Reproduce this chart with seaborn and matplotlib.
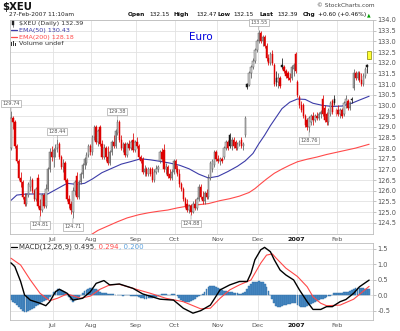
import numpy as np
import pandas as pd
import matplotlib
matplotlib.use("Agg")
import matplotlib.pyplot as plt
from matplotlib.patches import Rectangle
from matplotlib.lines import Line2D
import seaborn as sns

sns.set_theme(style="white")
plt.rcParams["font.family"] = ["DejaVu Sans"]

# ---- trading calendar -------------------------------------------------------
holidays = ["2006-07-04", "2006-09-04", "2006-11-23", "2006-12-25",
            "2007-01-01", "2007-01-15", "2007-02-19"]
dates = pd.bdate_range("2006-06-01", "2007-02-27", freq="C", holidays=holidays)

# ---- daily OHLC of $XEU -----------------------------------------------------
opens = [
    # Jun
    128.0, 129.4, 129.2, 128.1, 127.4, 126.6, 126.4, 125.7, 125.4, 125.8, 126.2,
    126.5, 126.0, 125.6, 126.6, 125.3, 125.1, 125.8, 125.3, 126.1, 127.0, 127.8,
    # Jul
    127.6, 127.9, 128.0, 128.2, 127.6, 127.1, 127.3, 126.5, 125.6, 125.4,
    125.0, 126.0, 126.7, 125.7, 126.4, 126.8, 127.2, 127.3, 127.7, 128.1,
    # Aug
    127.8, 128.5, 129.0, 128.3, 129.0, 128.2, 127.6, 128.0, 127.6, 127.3, 127.8,
    128.3, 128.1, 128.7, 129.2, 128.4, 128.0, 128.2, 127.7, 128.2, 128.0, 128.4, 127.9,
    # Sep
    128.3, 128.1, 127.6, 127.5, 126.9, 127.0, 126.8, 127.0, 127.0, 126.5,
    126.9, 127.0, 127.4, 127.8, 127.9, 127.0, 127.1, 126.8, 126.6, 126.9,
    # Oct
    127.4, 127.0, 126.8, 126.3, 126.1, 125.6, 125.4, 125.1, 125.3, 125.0, 125.4,
    125.2, 125.6, 126.2, 125.7, 125.5, 125.9, 125.7, 126.6, 127.0, 127.2, 127.8,
    # Nov
    127.5, 127.4, 127.5, 127.6, 128.0, 128.3, 128.6, 128.1, 128.4, 128.3, 128.0,
    128.2, 128.4, 128.1, 128.6, 131.0, 130.95, 131.5, 131.8, 132.1, 132.6,
    # Dec
    133.0, 133.4, 133.0, 133.2, 132.8, 132.2, 132.0, 132.4, 131.9, 131.3,
    131.1, 131.3, 131.9, 131.8, 131.6, 131.5, 131.3, 131.3, 131.7, 132.4,
    # Jan
    131.1, 130.4, 130.0, 130.0, 129.5, 129.3, 129.0, 129.2, 129.5, 129.3,
    129.5, 129.4, 129.6, 130.3, 129.9, 129.6, 129.2, 129.6, 130.2, 130.3,
    # Feb
    129.6, 129.8, 129.6, 129.8, 129.6, 130.1, 130.2, 129.9, 130.3,
    130.8, 131.5, 131.3, 131.5, 131.2, 131.0, 131.4, 131.9, 132.15,
]
highs = [
    129.74, 129.5, 129.3, 128.2, 127.5, 126.9, 126.5, 125.9, 125.9, 126.4, 126.7,
    126.6, 126.1, 126.2, 126.8, 125.6, 125.9, 125.9, 126.3, 127.1, 128.0, 128.1,
    128.0, 128.2, 128.44, 128.3, 127.7, 127.5, 127.4, 126.6, 125.8, 125.5,
    126.2, 126.5, 126.9, 126.5, 126.9, 127.3, 127.6, 127.8, 128.2, 128.2,
    128.6, 129.1, 129.1, 128.9, 129.1, 128.4, 128.2, 128.1, 128.1, 127.9, 128.4,
    128.6, 128.9, 129.38, 129.3, 128.6, 128.3, 128.3, 128.3, 128.4, 128.4, 128.7, 128.4,
    128.5, 128.2, 127.7, 127.6, 127.2, 127.1, 127.1, 127.1, 127.1, 127.0,
    127.2, 127.2, 127.9, 128.0, 128.2, 127.3, 127.2, 127.0, 127.0, 127.5,
    127.5, 127.2, 127.0, 126.4, 126.2, 125.7, 125.6, 125.4, 125.4, 125.5, 125.6,
    125.7, 126.3, 126.3, 126.0, 126.0, 126.1, 126.8, 127.4, 127.5, 127.9, 127.9,
    127.7, 127.6, 127.6, 128.1, 128.4, 128.4, 128.7, 128.5, 128.5, 128.4, 128.3,
    128.4, 128.5, 128.3, 129.5, 131.05, 131.6, 131.9, 132.2, 132.7, 133.1,
    133.55, 133.5, 133.3, 133.3, 132.9, 132.4, 132.5, 132.6, 132.0, 131.6,
    131.5, 131.4, 132.2, 131.9, 131.7, 131.6, 131.5, 131.9, 132.0, 132.5,
    131.2, 130.5, 130.2, 130.1, 129.6, 129.4, 129.5, 129.6, 129.7, 129.6,
    129.7, 129.7, 129.8, 130.5, 130.0, 129.7, 129.9, 130.2, 130.3, 130.5,
    129.9, 130.0, 129.9, 129.9, 130.2, 130.5, 130.3, 130.2, 130.4,
    131.7, 131.6, 131.6, 131.6, 131.5, 131.5, 131.8, 131.95, 132.47,
]
lows = [
    127.9, 128.9, 128.0, 127.3, 126.5, 126.2, 125.6, 125.3, 125.3, 125.7, 126.0,
    125.9, 125.5, 125.5, 125.2, 124.81, 125.0, 125.2, 125.2, 126.0, 126.9, 127.4,
    127.1, 127.6, 127.8, 127.5, 127.0, 126.9, 126.4, 125.5, 125.2, 124.9,
    124.71, 125.8, 125.6, 125.6, 126.3, 126.6, 127.0, 127.2, 127.6, 127.7,
    127.7, 128.4, 128.2, 128.1, 128.1, 127.5, 127.5, 127.4, 127.2, 127.2, 127.7,
    128.0, 128.0, 128.6, 128.3, 127.9, 127.8, 127.6, 127.6, 127.9, 127.9, 127.8, 127.8,
    128.0, 127.5, 127.3, 126.8, 126.7, 126.7, 126.7, 126.7, 126.4, 126.4,
    126.8, 126.9, 127.3, 127.4, 126.9, 126.8, 126.6, 126.5, 126.5, 126.8,
    126.9, 126.7, 126.2, 126.0, 125.5, 125.2, 125.0, 124.95, 124.88, 124.95, 125.1,
    125.1, 125.5, 125.6, 125.4, 125.4, 125.6, 125.6, 126.5, 126.9, 127.1, 127.4,
    127.3, 127.2, 127.3, 127.5, 127.9, 127.9, 128.0, 127.9, 128.0, 127.9, 127.9,
    128.1, 128.0, 127.9, 128.5, 130.75, 130.9, 131.3, 131.7, 132.0, 132.5,
    132.9, 132.9, 132.8, 132.7, 132.1, 131.9, 131.9, 131.9, 130.9, 130.9,
    130.8, 130.8, 131.7, 131.5, 131.3, 131.2, 131.1, 131.2, 131.4, 131.5,
    130.4, 129.9, 129.7, 129.4, 129.0, 128.85, 128.76, 129.1, 129.1, 129.2,
    129.3, 129.3, 129.4, 129.5, 129.2, 129.1, 129.1, 129.5, 129.6, 130.0,
    129.5, 129.5, 129.4, 129.4, 129.5, 129.9, 129.8, 129.8, 130.1,
    130.7, 131.2, 131.2, 131.1, 130.9, 130.9, 131.3, 131.5, 132.15,
]
closes = [
    129.4, 129.2, 128.1, 127.4, 126.6, 126.4, 125.7, 125.4, 125.8, 126.3, 126.5,
    126.0, 125.6, 126.1, 125.3, 125.1, 125.8, 125.3, 126.1, 127.0, 127.8, 127.6,
    127.9, 128.0, 128.2, 127.6, 127.1, 127.3, 126.5, 125.6, 125.4, 125.1,
    126.0, 126.4, 125.7, 126.4, 126.8, 127.2, 127.5, 127.7, 128.1, 127.8,
    128.5, 129.0, 128.3, 128.8, 128.2, 127.6, 128.0, 127.6, 127.3, 127.8, 128.3,
    128.1, 128.8, 129.2, 128.4, 128.0, 128.2, 127.7, 128.2, 128.0, 128.3, 127.9, 128.3,
    128.1, 127.6, 127.4, 126.9, 127.0, 126.8, 127.0, 126.8, 126.5, 126.9,
    127.0, 127.1, 127.8, 127.5, 127.0, 127.1, 126.7, 126.6, 126.9, 127.4,
    127.0, 126.8, 126.3, 126.1, 125.6, 125.3, 125.1, 125.3, 125.0, 125.4, 125.2,
    125.6, 126.2, 125.7, 125.5, 125.9, 125.7, 126.6, 127.3, 127.4, 127.8, 127.5,
    127.4, 127.5, 127.4, 128.0, 128.3, 128.0, 128.1, 128.4, 128.1, 128.0, 128.2,
    128.3, 128.1, 128.2, 129.4, 130.85, 131.5, 131.8, 132.1, 132.6, 133.0,
    133.4, 133.0, 133.2, 132.8, 132.2, 132.0, 132.4, 132.0, 131.0, 131.1,
    131.3, 130.9, 131.8, 131.6, 131.4, 131.3, 131.2, 131.8, 131.9, 131.6,
    130.5, 130.0, 129.8, 129.5, 129.1, 129.0, 129.4, 129.5, 129.3, 129.5,
    129.4, 129.6, 129.7, 129.6, 129.3, 129.2, 129.8, 130.1, 129.7, 130.1,
    129.8, 129.6, 129.8, 129.5, 130.1, 130.3, 129.9, 130.1, 130.25,
    131.5, 131.3, 131.5, 131.2, 131.0, 131.4, 131.7, 131.79, 132.39,
]

# ---- moving averages (bar index, value) ------------------------------------
ema50_idx = [0, 3, 8, 14, 19, 24, 29, 34, 38, 42, 47, 52, 57, 62, 67, 72, 77, 82,
             87, 92, 97, 102, 107, 112, 117, 121, 125, 128, 131, 134, 137, 140,
             144, 148, 152, 156, 161, 166, 171, 176, 180, 185]
ema50_val = [125.55, 125.8, 125.85, 125.85, 125.85, 126.1, 126.35, 126.3, 126.35,
             126.55, 126.85, 127.05, 127.25, 127.37, 127.5, 127.45, 127.38, 127.3,
             127.2, 127.03, 126.78, 126.6, 126.68, 126.9, 127.15, 127.4, 127.75,
             128.2, 128.6, 129.05, 129.45, 129.85, 130.15, 130.3, 130.28, 130.1,
             130.0, 129.95, 129.97, 130.1, 130.25, 130.43]
ema200_idx = [41, 45, 50, 55, 60, 66, 71, 76, 81, 86, 91, 97, 102, 108, 113, 118,
              123, 126, 129, 132, 136, 140, 144, 148, 153, 158, 163, 168, 173, 178, 185]
ema200_val = [123.92, 124.15, 124.35, 124.55, 124.73, 124.88, 124.97, 125.04, 125.1,
              125.2, 125.28, 125.35, 125.4, 125.54, 125.63, 125.75, 125.92, 126.1,
              126.33, 126.55, 126.82, 127.02, 127.2, 127.36, 127.48, 127.58, 127.7,
              127.8, 127.9, 128.0, 128.18]

# ---- MACD(12,26,9) -----------------------------------------------------------
macd_idx = [0, 2, 5, 7, 10, 15, 18, 20, 23, 25, 29, 32, 37, 41, 44, 48, 51, 56, 63,
            68, 77, 84, 89, 94, 98, 103, 108, 113, 118, 122, 124, 126, 129, 131, 134,
            136, 139, 142, 146, 149, 153, 156, 160, 163, 166, 170, 173, 177, 180, 185]
macd_val = [1.05, 0.93, 0.45, 0.02, -0.15, -0.25, -0.33, -0.2, 0.12, 0.2, 0.07, -0.15,
            -0.09, 0.12, 0.39, 0.48, 0.34, 0.37, 0.23, 0.05, -0.12, -0.15, -0.41, -0.57,
            -0.49, -0.31, 0.18, 0.34, 0.45, 0.45, 0.72, 1.15, 1.47, 1.55, 1.41, 1.15,
            0.82, 0.66, 0.5, 0.18, -0.2, -0.45, -0.45, -0.36, -0.36, -0.2, -0.13, 0.07,
            0.28, 0.495]
signal_idx = [0, 5, 10, 15, 20, 24, 29, 36, 41, 46, 51, 56, 63, 72, 80, 89, 98, 103,
              108, 113, 118, 124, 129, 132, 135, 137, 142, 148, 153, 156, 160, 163,
              170, 177, 185]
signal_val = [1.2, 0.98, 0.5, 0.07, -0.17, -0.09, 0.05, -0.09, -0.02, 0.2, 0.34, 0.36,
              0.23, 0.07, -0.09, -0.2, -0.43, -0.41, -0.09, 0.18, 0.34, 0.5, 1.04, 1.3,
              1.34, 1.2, 0.88, 0.61, 0.28, -0.04, -0.25, -0.33, -0.31, -0.12, 0.294]
macd_hist = [
    -0.15, -0.2, -0.25, -0.3, -0.38, -0.45, -0.5, -0.54, -0.53, -0.5,
    -0.47, -0.43, -0.39, -0.35, -0.3, -0.26, -0.22, -0.17, -0.13, -0.1,
    -0.06, 0.02, 0.1, 0.16, 0.2, 0.21, 0.19, 0.16, 0.12, 0.06,
    -0.05, -0.15, -0.2, -0.16, -0.1, -0.05, 0.02, 0.08, 0.14, 0.19,
    0.22, 0.23, 0.23, 0.22, 0.2, 0.17, 0.12, 0.09, 0.07, 0.07,
    0.06, 0.05, 0.05, 0.04, 0.03, 0.02, 0.01, 0.0, -0.01, 0.01,
    0.02, 0.01, -0.02, -0.03, -0.02, -0.03, -0.05, -0.07, -0.09, -0.1,
    -0.1, -0.09, -0.08, -0.07, -0.06, -0.04, -0.02, 0.02, 0.05, 0.06,
    0.05, 0.03, 0.02, 0.04, 0.05, 0.03, -0.02, -0.08, -0.14, -0.18,
    -0.2, -0.21, -0.2, -0.17, -0.14, -0.1, -0.06, -0.03, 0.0, 0.05,
    0.12, 0.2, 0.26, 0.29, 0.3, 0.29, 0.27, 0.24, 0.2, 0.17,
    0.15, 0.13, 0.12, 0.11, 0.1, 0.09, 0.08, 0.07, 0.06, 0.06,
    0.07, 0.12, 0.22, 0.32, 0.38, 0.42, 0.44, 0.45, 0.46, 0.45,
    0.42, 0.36, 0.28, 0.15, 0.02, -0.12, -0.25, -0.33, -0.36, -0.36,
    -0.33, -0.3, -0.3, -0.29, -0.27, -0.25, -0.24, -0.25, -0.3, -0.35,
    -0.38, -0.38, -0.36, -0.33, -0.3, -0.27, -0.24, -0.2, -0.17, -0.14,
    -0.12, -0.1, -0.08, -0.06, -0.03, -0.01, 0.03, 0.07, 0.09, 0.08,
    0.07, 0.08, 0.1, 0.12, 0.12, 0.13, 0.17, 0.22, 0.24, 0.25,
    0.25, 0.24, 0.23, 0.22, 0.21, 0.2,
]

# bars whose high / low carries a value tag
tagged_bars = [(0, "high"), (24, "high"), (55, "high"), (128, "high"),
               (15, "low"), (32, "low"), (93, "low"), (154, "low")]

# ---- figure ---------------------------------------------------------------
W, H = 400, 331
fig = plt.figure(figsize=(W / 100, H / 100), dpi=100)
fig.patch.set_facecolor("white")
renderer = fig.canvas.get_renderer()


def fx(px):
    return px / W


def fy(py):
    return 1 - py / H


def text_run(x_px, y_px, pieces, size):
    """Write coloured pieces one after another on a single line."""
    x = x_px
    for txt, color, weight in pieces:
        t = fig.text(fx(x), fy(y_px), txt, fontsize=size, color=color,
                     fontweight=weight, va="center", ha="left")
        x += t.get_window_extent(renderer=renderer).width


ax = fig.add_axes([fx(10), fy(233.5), 363 / W, 213.5 / H])
axm = fig.add_axes([fx(10), fy(320), 363 / W, 77 / H])

o = np.array(opens)
h = np.array(highs)
lo = np.array(lows)
c = np.array(closes)
n = len(c)
idx = np.arange(n)
prev = np.r_[c[0], c[:-1]]

# candle colouring: hollow when close >= open, red when close < previous close
faces, edges = [], []
for oi, ci, pi in zip(o, c, prev):
    hollow = ci >= oi
    down = ci < pi
    if hollow and not down:
        faces.append("#d2d2d2"); edges.append("#5a5a5a")
    elif hollow and down:
        faces.append("#f6c2c2"); edges.append("#e46464")
    elif not hollow and not down:
        faces.append("#151515"); edges.append("#151515")
    else:
        faces.append("#dd0000"); edges.append("#dd0000")

# moving averages under the candles
sns.lineplot(x=ema50_idx, y=ema50_val, ax=ax, color="#3c3ca8", lw=0.8, zorder=2)
sns.lineplot(x=ema200_idx, y=ema200_val, ax=ax, color="#ff4a4a", lw=0.8, zorder=2)

ax.vlines(idx, lo, h, colors=edges, lw=0.55, zorder=3)
body_bottom = np.minimum(o, c)
body_height = np.maximum(np.abs(c - o), 0.04)
ax.bar(idx, body_height, bottom=body_bottom, width=0.72, color=faces,
       edgecolor=edges, linewidth=0.35, zorder=4)

# value tags at swing highs and lows
for i, kind in tagged_bars:
    v = highs[i] if kind == "high" else lows[i]
    off = 5.2 if kind == "high" else -6.2
    ax.annotate(f"{v:.2f}", xy=(i, v), xytext=(0, off), textcoords="offset points",
                ha="center", va="center", fontsize=3.6, color="#555555",
                bbox=dict(boxstyle="square,pad=0.25", fc="white", ec="#a8a8a8", lw=0.5),
                arrowprops=dict(arrowstyle="-", color="#a8a8a8", lw=0.5,
                                shrinkA=0, shrinkB=0),
                annotation_clip=False, zorder=6)

# last-price marker
ax.add_patch(Rectangle((n - 2.1, closes[-1] - 0.2), 2.0, 0.37, fc="#ffff33",
                       ec="#8a8a00", lw=0.5, zorder=8, clip_on=False))

# MACD panel
axm.bar(idx, macd_hist, width=0.95, color="#4a8cc6", edgecolor="#2c6aa2",
        linewidth=0.3, zorder=2)
sns.lineplot(x=signal_idx, y=signal_val, ax=axm, color="#ff4848", lw=0.8, zorder=3)
sns.lineplot(x=macd_idx, y=macd_val, ax=axm, color="#000000", lw=1.0, zorder=4)

# ---- axes styling ------------------------------------------------------------
months = dates.month
starts = [i for i in range(1, n) if months[i] != months[i - 1]]
month_labels = ["2007" if dates[i].month == 1 else dates[i].strftime("%b") for i in starts]

ax.set_ylim(124.0, 134.0)
ax.set_yticks(np.arange(124.5, 134.01, 0.5))
ax.set_yticklabels([f"{v:.1f}" for v in np.arange(124.5, 134.01, 0.5)])
axm.set_ylim(-0.79, 1.69)
axm.set_yticks([-0.5, 0.0, 0.5, 1.0, 1.5])
axm.set_yticklabels(["-0.5", "0.0", "0.5", "1.0", "1.5"])

for a in (ax, axm):
    a.set_xlim(-0.5, 187)
    a.set_xticks([s - 0.5 for s in starts])
    a.set_xticklabels(month_labels)
    a.set_xlabel("")
    a.set_ylabel("")
    a.yaxis.tick_right()
    a.tick_params(axis="x", length=0, labelsize=4.6, labelcolor="#555555", pad=2.2)
    a.tick_params(axis="y", length=2, width=0.5, color="#aaaaaa", labelsize=4.8,
                  labelcolor="#555555", pad=1.2)
    a.grid(True, color="#e2e2e2", lw=0.6, zorder=0)
    a.set_axisbelow(True)
    a.set_facecolor("white")
    for sp in a.spines.values():
        sp.set_color("#bdbdbd")
        sp.set_linewidth(0.6)
    for lbl in a.get_xticklabels():
        if lbl.get_text() == "2007":
            lbl.set_fontweight("bold")
            lbl.set_color("#111111")

# ---- header --------------------------------------------------------------------
fig.text(fx(2), fy(7), "$XEU", fontsize=7.3, fontweight="bold", color="#111111",
         va="center", ha="left")
fig.text(fx(9), fy(14.8), "27-Feb-2007 11:10am", fontsize=4.2, color="#222222",
         va="center", ha="left")
fig.text(fx(375), fy(5.5), "\u00a9 StockCharts.com", fontsize=4.2, color="#444444",
         va="center", ha="right")

chg = closes[-1] - closes[-2]
quote = [("Open", 128, True), (f"{opens[-1]:.2f}", 149, False),
         ("High", 173, True), (f"{highs[-1]:.2f}", 196, False),
         ("Low", 217, True), (f"{lows[-1]:.2f}", 233, False),
         ("Last", 260, True), (f"{closes[-1]:.2f}", 277, False),
         ("Chg", 303, True), (f"{chg:+.2f} ({chg / closes[-2] * 100:+.2f}%)", 318, False)]
for txt, xp, bold in quote:
    fig.text(fx(xp), fy(14.8), txt, fontsize=4.2, color="#111111",
             fontweight="bold" if bold else "normal", va="center", ha="left")
fig.text(fx(367), fy(14.8), "\u25b2", fontsize=3.4, color="#00a000", va="center", ha="left")

# ---- price panel legend -------------------------------------------------------------
fig.add_artist(Rectangle((fx(11.5), fy(25.3)), 2.2 / W, 4 / H, transform=fig.transFigure,
                         fc="#222222", ec="#222222", lw=0.3))
fig.add_artist(Line2D([fx(12.6), fx(12.6)], [fy(26.5), fy(20.8)], transform=fig.transFigure,
                      color="#222222", lw=0.4))
fig.text(fx(19), fy(23.3), f"$XEU (Daily) {closes[-1]:.2f}", fontsize=4.6,
         color="#333333", va="center", ha="left")
fig.add_artist(Line2D([fx(10.5), fx(17)], [fy(30.2), fy(30.2)], transform=fig.transFigure,
                      color="#3c3ca8", lw=0.9))
fig.text(fx(19), fy(30.2), f"EMA(50) {ema50_val[-1]:.2f}", fontsize=4.6,
         color="#3c3ca8", va="center", ha="left")
fig.add_artist(Line2D([fx(10.5), fx(17)], [fy(37.2), fy(37.2)], transform=fig.transFigure,
                      color="#ff4a4a", lw=0.9))
fig.text(fx(19), fy(37.2), f"EMA(200) {ema200_val[-1]:.2f}", fontsize=4.6,
         color="#ff4a4a", va="center", ha="left")
for k, hh in enumerate([3.0, 4.5, 2.2]):
    fig.add_artist(Rectangle((fx(11.2 + k * 1.8), fy(45.5)), 1.2 / W, hh / H,
                             transform=fig.transFigure, fc="#333333", ec="none"))
fig.text(fx(19), fy(43.4), "Volume undef", fontsize=4.6, color="#333333",
         va="center", ha="left")

fig.text(fx(201), fy(36.5), "Euro", fontsize=7.5, color="#0000dd", va="center", ha="center")

# ---- MACD legend ------------------------------------------------------------------
fig.add_artist(Line2D([fx(11), fx(16.5)], [fy(246.8), fy(246.8)], transform=fig.transFigure,
                      color="#000000", lw=0.9))
text_run(19, 246.8, [(f"MACD(12,26,9) {macd_val[-1]:.3f}", "#333333", "normal"),
                     (f", {signal_val[-1]:.3f}", "#ff4848", "normal"),
                     (f", {macd_hist[-1]:.3f}", "#5aa0dc", "normal")], 5.0)

fig.savefig("out.png", dpi=100, facecolor="white")
